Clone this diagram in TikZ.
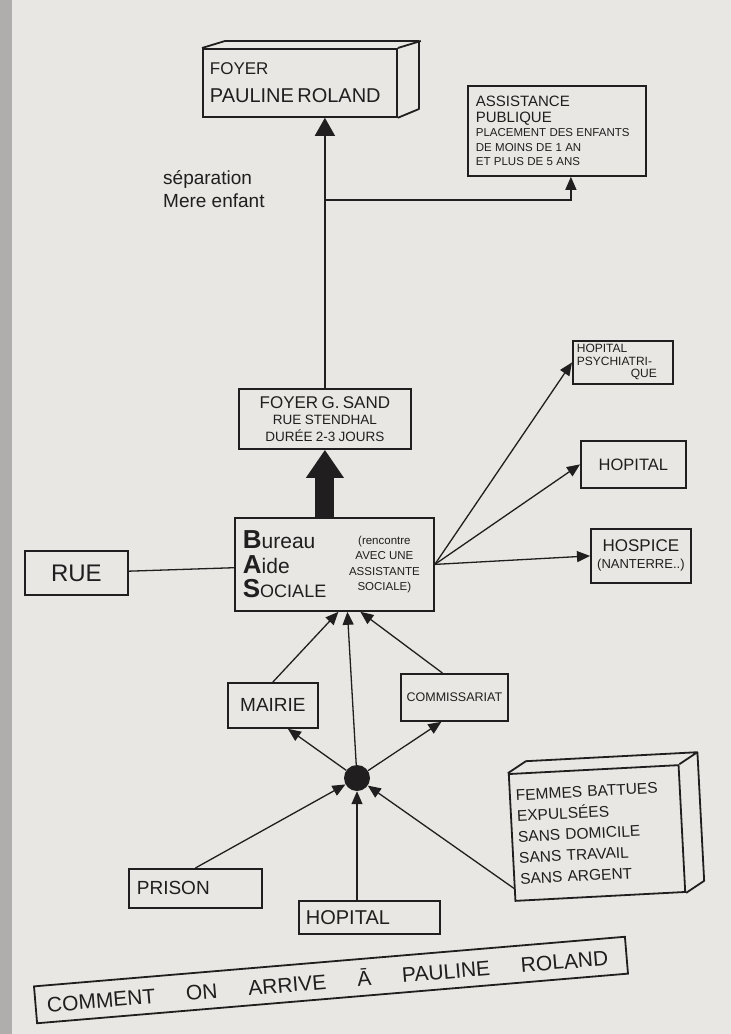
\documentclass[tikz,border=0pt]{standalone}
\usepackage{fontspec}
\setmainfont{Liberation Sans}
\usepackage{tikz}
\usetikzlibrary{arrows.meta}
\definecolor{paper}{RGB}{233,231,227}
\definecolor{ink}{RGB}{32,30,30}
\newcommand{\fsz}[2]{\fontsize{#1}{#2}\selectfont}

\begin{document}
\begin{tikzpicture}[x=1pt,y=-1pt,
    box/.style={draw=ink,line width=1.8pt,text=ink,inner sep=5pt},
    edge3d/.style={draw=ink,line width=1.8pt,line join=round},
    link/.style={draw=ink,line width=1.3pt},
    tip/.style={link,-{Triangle[length=13pt,width=11pt]}},
  ]
  \useasboundingbox[fill=paper] (0,0) rectangle (731,1034);
  \fill[gray!55!paper] (0,0) rectangle (12,1034);

  % the two homes at the top
  \node[box,anchor=north west,minimum width=194pt,minimum height=68pt,text width=180pt,inner xsep=7pt,align=left]
    (foyer) at (202,48) {\fsz{17}{20}FOYER\par\fsz{20}{28}PAULINE ROLAND\par};
  \draw[edge3d] (foyer.north west) -- ++(23,-7) -- ++(194,0) -- ++(0,68) -- (foyer.south east)
    (foyer.north east) -- ++(23,-7);
  \node[box,anchor=north west,minimum width=178pt,minimum height=90pt,text width=162pt,inner xsep=8pt,align=left]
    (assist) at (467,85) {\fsz{15}{16}ASSISTANCE\\PUBLIQUE\par
      \fsz{11.5}{14.5}PLACEMENT DES ENFANTS\\DE MOINS DE 1 AN\\ET PLUS DE 5 ANS\par};
  \node[anchor=north west,inner sep=0pt,align=left,text=ink,font=\fsz{19}{23}]
    (sep) at (163,170) {séparation\\Mere enfant};

  \node[box,anchor=north west,minimum width=172pt,minimum height=60pt,text width=160pt,inner xsep=6pt,inner ysep=2pt,align=center]
    (gsand) at (238,388) {\fsz{17}{18}FOYER G. SAND\par\fsz{13.5}{16.5}RUE STENDHAL\par DURÉE 2-3 JOURS\par};

  % the social office and where it sends
  \node[box,anchor=north west,minimum width=199pt,minimum height=93pt,inner xsep=8pt,inner ysep=0pt]
    (bureau) at (234,517)
    {\parbox[c]{100pt}{\raggedright\fsz{21}{24.5}\textbf{\fsz{26}{24.5}B}ureau\\\textbf{\fsz{26}{24.5}A}ide\\\textbf{\fsz{26}{24.5}S}{\fsz{18}{24.5}OCIALE}\par}%
     \parbox[c]{83pt}{\centering\fsz{11.5}{15.5}(rencontre\\AVEC UNE\\ASSISTANTE\\SOCIALE)\par}};
  \node[box,anchor=north west,minimum width=103pt,minimum height=44pt,font=\fsz{24}{28}]
    (rue) at (24,550) {RUE};
  \node[box,anchor=north west,minimum width=100pt,minimum height=43pt,text width=92pt,inner xsep=4pt,inner ysep=1pt,align=left]
    (psych) at (572,340) {\fsz{12}{12.5}HOPITAL\\PSYCHIATRI-\\\hspace*{\fill}QUE\hspace*{12pt}\par};
  \node[box,anchor=north west,minimum width=105pt,minimum height=47pt,font=\fsz{16.5}{18}]
    (hop) at (580,440) {HOPITAL};
  \node[box,anchor=north west,minimum width=100pt,minimum height=54pt,text width=92pt,inner xsep=4pt,align=center]
    (hospice) at (590,528) {\fsz{17}{18}HOSPICE\par\fsz{13}{17}(NANTERRE..)\par};

  % the ways in
  \node[box,anchor=north west,minimum width=90pt,minimum height=45pt,font=\fsz{19}{22}]
    (mairie) at (227,682) {MAIRIE};
  \node[box,anchor=north west,minimum width=107pt,minimum height=47pt,inner xsep=3pt,font=\fsz{12.5}{14}]
    (commis) at (400,673) {COMMISSARIAT};
  \node[circle,fill=ink,minimum size=26pt,inner sep=0pt] (dot) at (357,778) {};
  \node[box,anchor=north west,minimum width=133pt,minimum height=39pt,text width=117pt,inner xsep=8pt,align=left,font=\fsz{19}{20}]
    (prison) at (128,868) {PRISON};
  \node[box,anchor=north west,minimum width=141pt,minimum height=33pt,text width=127pt,inner xsep=7pt,inner ysep=2pt,align=left,font=\fsz{20}{22}]
    (hopbas) at (298,900) {HOPITAL};
  \node[box,rotate=3,minimum width=170pt,minimum height=127pt,text width=158pt,inner xsep=6pt,align=left,font=\fsz{15.5}{21}]
    (femmes) at (597,833) {FEMMES BATTUES\\EXPULSÉES\\SANS DOMICILE\\SANS TRAVAIL\\SANS ARGENT};
  \draw[edge3d] (femmes.north west) -- ([shift={(18,-12)}]femmes.north west)
    -- ([shift={(18,-12)}]femmes.north east) -- ([shift={(18,-12)}]femmes.south east) -- (femmes.south east)
    (femmes.north east) -- ([shift={(18,-12)}]femmes.north east);

  \node[box,rotate=4.8,minimum width=593pt,minimum height=37pt,text width=570pt,inner xsep=11.5pt,align=left,font=\fsz{21}{24}]
    (titre) at (331,980)
    {COMMENT\hspace{31pt}ON\hspace{31pt}ARRIVE\hspace{31pt}Ā\hspace{31pt}PAULINE\hspace{31pt}ROLAND};

  % connectors
  \coordinate (split) at (324,200);
  \draw[link,-{Triangle[length=18pt,width=20pt]}] (gsand.north) -- (gsand.north |- foyer.south);
  \draw[tip] (split) -| ([xshift=14pt]assist.south);
  \draw[draw=ink,line width=19pt,-{Triangle[length=28pt,width=36pt]}] (gsand.south |- bureau.north) -- (gsand.south);
  \draw[link] (rue) -- (bureau);
  \draw[tip] (bureau.east) -- (psych.west);
  \draw[tip] (bureau.east) -- (hop.west);
  \draw[tip] (bureau.east) -- (hospice.west);
  \draw[tip] (mairie.north) -- ([xshift=4pt]bureau.south);
  \draw[tip] (dot) -- ([xshift=13pt]bureau.south);
  \draw[tip] ([xshift=-12pt]commis.north) -- ([xshift=26pt]bureau.south);
  \draw[tip] (dot) -- ([xshift=15pt]mairie.south);
  \draw[tip] (dot) -- ([xshift=-13pt]commis.south);
  \draw[tip] (prison.north) -- (dot);
  \draw[tip] (dot |- hopbas.north) -- (dot);
  \draw[tip] ([yshift=13pt]femmes.south west) -- (dot);
\end{tikzpicture}
\end{document}
